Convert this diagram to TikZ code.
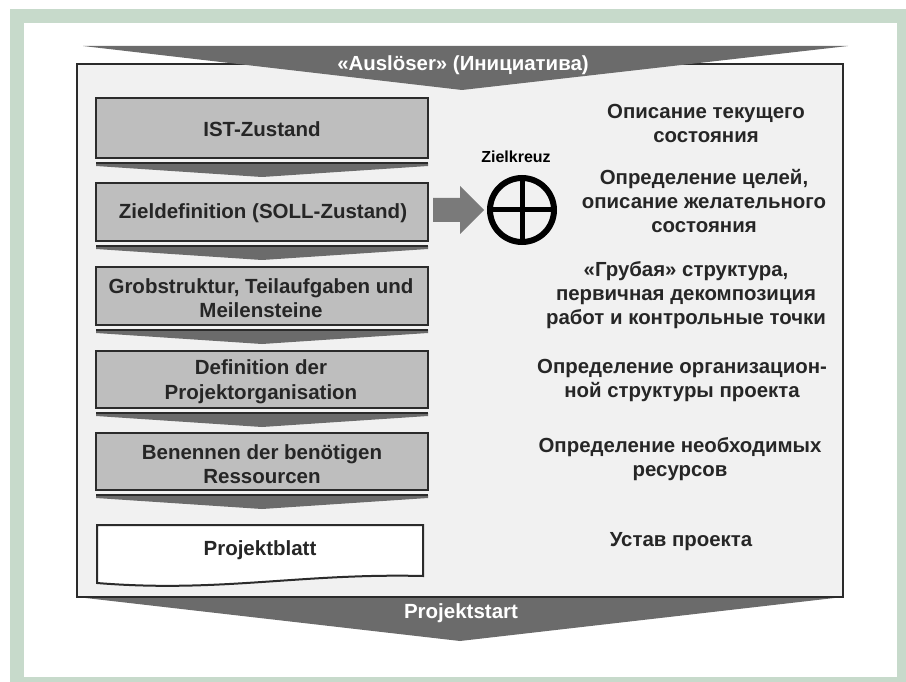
\documentclass[tikz,border=0pt]{standalone}
\usepackage{fontspec}
\setmainfont{Liberation Sans}
\definecolor{frame}{HTML}{C7DACB}
\definecolor{panel}{HTML}{F1F1F1}
\definecolor{stepfill}{HTML}{BEBEBE}
\definecolor{chev}{HTML}{6B6B6B}
\definecolor{edge}{HTML}{2B2B2B}
\tikzset{
  stepbox/.style={draw=edge, line width=2pt, fill=stepfill},
  steptext/.style={font=\bfseries\fontsize{20.5}{24.5}\selectfont, align=center, text=black!85},
  note/.style={font=\bfseries\fontsize{20.4}{24}\selectfont, align=center, text=black!85},
  bandtext/.style={font=\bfseries\fontsize{20.4}{23}\selectfont, text=white},
  smallchev/.style={fill=chev},
}
\begin{document}
\begin{tikzpicture}[x=1pt,y=-1pt]
\useasboundingbox (0,0) rectangle (906,682);
% outer green frame
\fill[white] (0,0) rectangle (906,682);
\fill[frame] (10,9) rectangle (906,682);
\fill[white] (24,23) rectangle (897,677);
% main panel
\draw[edge, line width=2pt, fill=panel] (77,64) rectangle (843,597);
% top band
\fill[chev] (83,46) -- (848,46) -- (462,90) -- cycle;
\node[bandtext] (trigger) at (463,65) {«Auslöser» (Инициатива)};
% bottom band
\fill[chev] (77,597) -- (843,597) -- (460,641) -- cycle;
\draw[edge, line width=2pt] (77,597) -- (843,597);
\node[bandtext, font=\bfseries\fontsize{20.5}{23}\selectfont] (start) at (461,613) {Projektstart};

% steps
\foreach \t/\b in {98/158,183/241,267/325,351/408,433/490}{
  \draw[stepbox] (96,\t) rectangle (428,\b);
}
\foreach \y in {163,246,330,413,495}{
  \fill[smallchev] (96,\y) -- (428,\y) -- (428,\y+3) -- (262,\y+14) -- (96,\y+3) -- cycle;
  \draw[edge, line width=1.5pt] (96,\y) -- (428,\y);
}
\node[steptext] (s1) at (262,129) {IST-Zustand};
\node[steptext] (s2) at (263,213) {Zieldefinition (SOLL-Zustand)};
\node[steptext] (s3) at (261,298) {Grobstruktur, Teilaufgaben und\\Meilensteine};
\node[steptext] (s4) at (261,381.5) {Definition der\\Projektorganisation};
\node[steptext] (s5) at (262,464) {Benennen der benötigen\\Ressourcen};
% project sheet
\draw[draw=edge, line width=2pt, fill=white] (97,525) -- (423,525) -- (423,576)
  .. controls (300,573) and (220,593) .. (97,583) -- cycle;
\node[steptext] (s6) at (260,550) {Projektblatt};

% arrow to target cross
\fill[chev!90] (433,198) -- (460,198) -- (460,186) -- (484,210) -- (460,234) -- (460,222) -- (433,222) -- cycle;
\coordinate (zc) at (522,210);
\draw[black, line width=6pt] (zc) circle (32);
\draw[black, line width=5pt] (490,210) -- (554,210);
\draw[black, line width=5pt] (522,178) -- (522,242);
\node[font=\bfseries\fontsize{16}{20}\selectfont] (zk) at (516,157) {Zielkreuz};

% descriptions
\node[note] (d1) at (706,123) {Описание текущего\\состояния};
\node[note] (d2) at (704,201.5) {Определение целей,\\описание желательного\\состояния};
\node[note] (d3) at (686,295) {«Грубая» структура,\\первичная декомпозиция\\работ и контрольные точки};
\node[note] (d4) at (682,380) {Определение организацион-\\ной структуры проекта};
\node[note] (d5) at (680,459.5) {Определение необходимых\\ресурсов};
\node[note] (d6) at (681,542) {Устав проекта};
\end{tikzpicture}
\end{document}
